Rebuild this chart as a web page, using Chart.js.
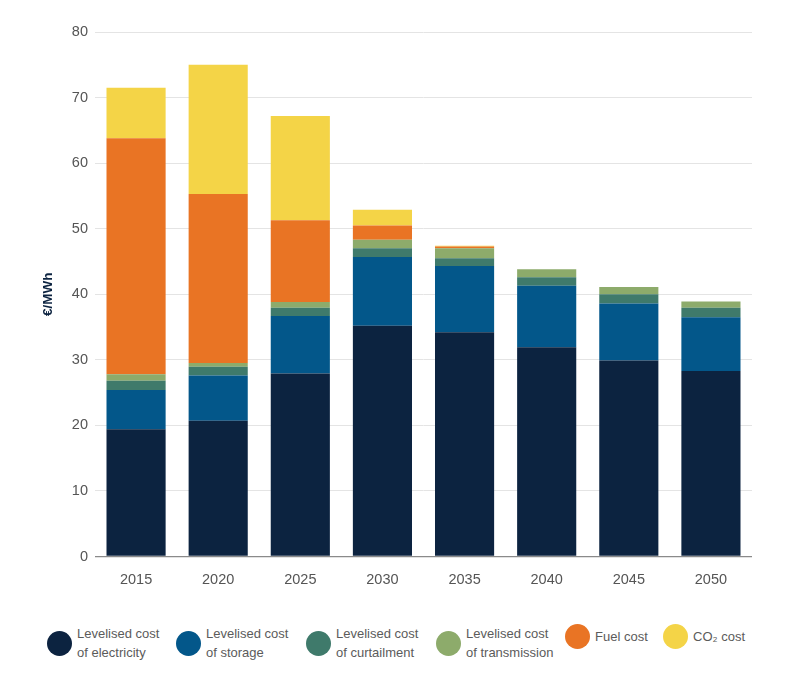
<!DOCTYPE html>
<html>
<head>
<meta charset="utf-8">
<script src="https://cdn.jsdelivr.net/npm/chart.js@4/dist/chart.umd.min.js"></script>
<style>
  html, body { margin: 0; padding: 0; background: #fff; }
  body { width: 800px; height: 681px; position: relative; overflow: hidden; font-family: "Liberation Sans", Arial, Helvetica, sans-serif; }
  #wrap { position: absolute; left: 0; top: 0; width: 800px; height: 600px; }
  .lg { position: absolute; top: 624px; display: flex; align-items: center; }
  .dot { width: 25px; height: 25px; border-radius: 50%; flex: 0 0 25px; margin-right: 5px; }
  .txt { font-size: 13px; line-height: 19px; color: #5b5b5b; white-space: nowrap; }
</style>
</head>
<body>
<div id="wrap"><canvas id="c" width="800" height="600"></canvas></div>
<div id="legend"></div>
<script>
const categories = ["2015", "2020", "2025", "2030", "2035", "2040", "2045", "2050"];
const electricity  = [19.4, 20.7, 27.9, 35.2, 34.2, 31.9, 29.9, 28.3];
const storage      = [6.0, 6.9, 8.8, 10.5, 10.1, 9.4, 8.7, 8.2];
const curtailment  = [1.4, 1.35, 1.25, 1.3, 1.2, 1.3, 1.4, 1.45];
const transmission = [1.0, 0.55, 0.85, 1.3, 1.5, 1.2, 1.1, 0.95];
const fuel         = [36.0, 25.8, 12.5, 2.2, 0.3, 0, 0, 0];
const co2          = [7.7, 19.7, 15.9, 2.4, 0.1, 0, 0, 0];
const yTicks = [0, 10, 20, 30, 40, 50, 60, 70, 80];
const seriesNames = [
  ["Levelised cost", "of electricity"],
  ["Levelised cost", "of storage"],
  ["Levelised cost", "of curtailment"],
  ["Levelised cost", "of transmission"],
  ["Fuel cost"],
  ["CO\u2082 cost"]
];
const colors = ["#0c2340", "#03578a", "#3f7a6b", "#8dab6b", "#e97424", "#f4d447"];
const seriesData = [electricity, storage, curtailment, transmission, fuel, co2];

const datasets = seriesData.map((d, i) => ({
  label: seriesNames[i].join(" "),
  data: d,
  backgroundColor: colors[i],
  borderWidth: 0,
  categoryPercentage: 1.0,
  barPercentage: 0.72
}));

new Chart(document.getElementById("c"), {
  type: "bar",
  data: { labels: categories, datasets },
  options: {
    responsive: false,
    animation: false,
    devicePixelRatio: 1,
    layout: { padding: { left: 0, right: 48, top: 32, bottom: 0 } },
    plugins: { legend: { display: false }, tooltip: { enabled: false } },
    scales: {
      x: {
        stacked: true,
        grid: { display: false, drawTicks: false },
        border: { display: false },
        ticks: { color: "#555", font: { size: 14.5, family: "'Liberation Sans', Arial, sans-serif" }, padding: 15 },
        afterFit: (s) => { s.height = 43.5; }
      },
      y: {
        stacked: true,
        min: 0, max: 80,
        afterBuildTicks: (s) => { s.ticks = yTicks.map(v => ({ value: v })); },
        grid: {
          drawTicks: false,
          color: (ctx) => ctx.tick && ctx.tick.value === 0 ? "#8a8a8a" : "#e4e4e4",
          lineWidth: (ctx) => ctx.tick && ctx.tick.value === 0 ? 1.3 : 1
        },
        border: { display: false },
        ticks: { color: "#555", font: { size: 14.5, family: "'Liberation Sans', Arial, sans-serif" }, padding: 7 },
        title: {
          display: true, text: "€/MWh", color: "#0c2340",
          font: { size: 13.5, weight: "bold", family: "'Liberation Sans', Arial, sans-serif" },
          padding: { top: 40, bottom: 0 }
        },
        afterFit: (s) => { s.width = 95; }
      }
    }
  }
});

// HTML legend built from series names and colours
const legendX = [47, 176, 306, 436, 565, 663];
const legend = document.getElementById("legend");
seriesNames.forEach((lines, i) => {
  const item = document.createElement("div");
  item.className = "lg";
  item.style.left = legendX[i] + "px";
  const dot = document.createElement("div");
  dot.className = "dot";
  dot.style.background = colors[i];
  const txt = document.createElement("div");
  txt.className = "txt";
  lines.forEach((l, j) => {
    if (j) txt.appendChild(document.createElement("br"));
    txt.appendChild(document.createTextNode(l));
  });
  item.appendChild(dot);
  item.appendChild(txt);
  legend.appendChild(item);
});
</script>
</body>
</html>
